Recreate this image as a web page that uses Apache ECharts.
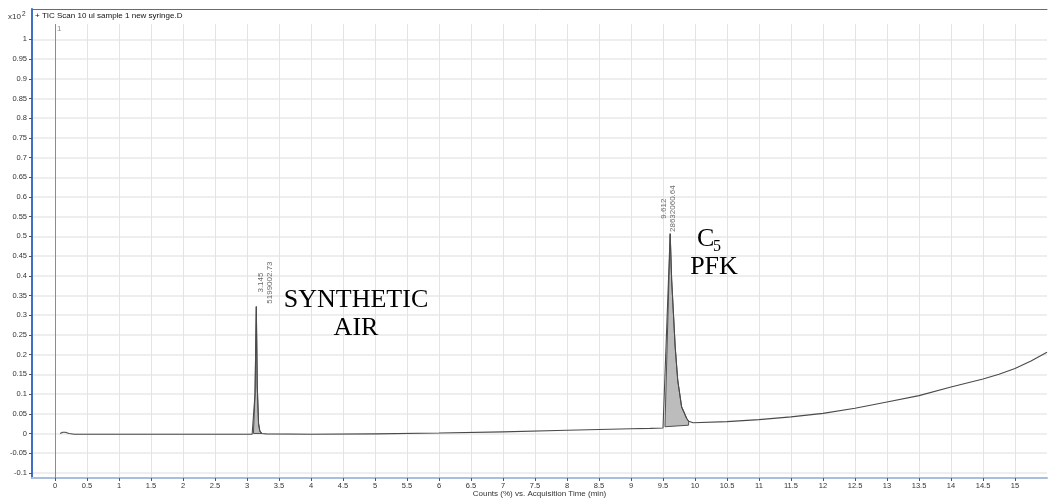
<!DOCTYPE html>
<html>
<head>
<meta charset="utf-8">
<script src="https://cdn.jsdelivr.net/npm/echarts@6/dist/echarts.min.js"></script>
<style>
  html, body { margin: 0; padding: 0; background: #fff; }
  #chart { width: 1048px; height: 500px; }
</style>
</head>
<body>
<div id="chart"></div>
<script>
// TIC trace: acquisition time (min) and counts (x10^2, %)
const traceTime = [
  0.08, 0.12, 0.16, 0.22, 0.30, 0.5, 1.0, 1.5, 2.0, 2.5, 3.0, 3.08,
  3.10, 3.125, 3.145, 3.16, 3.18, 3.20, 3.23, 3.3,
  4.0, 5.0, 6.0, 7.0, 8.0, 8.5, 9.0, 9.3, 9.5,
  9.53, 9.612, 9.635, 9.69, 9.73, 9.79, 9.87, 9.9,
  9.97, 10.0, 10.5, 11.0, 11.5, 12.0, 12.5, 13.0, 13.5, 14.0, 14.5, 14.75, 15.0, 15.25, 15.5
];
const traceValue = [
  0.000, 0.003, 0.003, 0.000, -0.002, -0.002, -0.002, -0.002, -0.002, -0.002, -0.002, -0.002,
  0.000, 0.100, 0.322, 0.120, 0.025, 0.006, 0.000, -0.001,
  -0.002, -0.001, 0.001, 0.004, 0.008, 0.010, 0.012, 0.013, 0.014,
  0.017, 0.507, 0.390, 0.220, 0.135, 0.068, 0.038, 0.031,
  0.027, 0.027, 0.030, 0.035, 0.042, 0.051, 0.064, 0.080, 0.096, 0.118, 0.138, 0.150, 0.165, 0.184, 0.206
];

// Integrated peaks
const peakRT = [3.145, 9.612];
const peakHeight = [0.322, 0.507];
const peakArea = ['5199002.73', '28632060.64'];
const peakStart = [3.10, 9.53];
const peakEnd = [3.23, 9.9];
const peakBaseStart = [0.0, 0.017];
const peakBaseEnd = [0.0, 0.021];

// Axis ticks
const xTicks = [0, 0.5, 1, 1.5, 2, 2.5, 3, 3.5, 4, 4.5, 5, 5.5, 6, 6.5, 7, 7.5, 8, 8.5,
  9, 9.5, 10, 10.5, 11, 11.5, 12, 12.5, 13, 13.5, 14, 14.5, 15];
const yTicks = [-0.1, -0.05, 0, 0.05, 0.1, 0.15, 0.2, 0.25, 0.3, 0.35, 0.4, 0.45, 0.5,
  0.55, 0.6, 0.65, 0.7, 0.75, 0.8, 0.85, 0.9, 0.95, 1];

const SMALL = "'Liberation Sans', Arial, sans-serif";
const SERIF = "'Liberation Serif', 'DejaVu Serif', serif";

// label offsets (px) for the rotated peak annotations
const peakLabelOffset = [[9, -24], [-2, -25]];

const chart = echarts.init(document.getElementById('chart'));

const option = {
  animation: false,
  backgroundColor: '#fff',
  grid: { left: 32, right: 1, top: 9, bottom: 22, containLabel: false, outerBoundsMode: 'none' },
  xAxis: [{
    type: 'value',
    min: -0.36,
    max: 15.5,
    name: 'Counts (%) vs. Acquisition Time (min)',
    nameLocation: 'middle',
    nameGap: 12,
    nameMoveOverlap: false,
    nameTextStyle: { fontFamily: SMALL, fontSize: 8, color: '#333', verticalAlign: 'top' },
    axisLine: { show: true, onZero: false, lineStyle: { color: '#a9bedc', width: 2 } },
    axisTick: { show: true, customValues: xTicks, length: 3, lineStyle: { color: '#555' } },
    axisLabel: {
      customValues: xTicks, margin: 4, fontFamily: SMALL, fontSize: 7.5, color: '#333',
      formatter: v => String(v)
    },
    splitLine: { show: true, lineStyle: { color: '#e3e3e3', width: 1 } }
  }, {
    type: 'value',
    position: 'top',
    min: -0.36,
    max: 15.5,
    axisLine: { show: true, onZero: false, lineStyle: { color: '#3f6fc6', width: 1 } },
    axisTick: { show: false },
    axisLabel: { show: false },
    splitLine: { show: false }
  }],
  yAxis: {
    type: 'value',
    min: -0.113,
    max: 1.077,
    axisLine: { show: true, onZero: false, lineStyle: { color: '#3f6fc6', width: 2 } },
    axisTick: { show: true, customValues: yTicks, length: 3, lineStyle: { color: '#555' } },
    axisLabel: {
      customValues: yTicks, margin: 5, fontFamily: SMALL, fontSize: 7.5, color: '#333',
      formatter: v => String(v)
    },
    splitLine: { show: true, lineStyle: { color: '#e8e8e8', width: 1.5 } }
  },
  series: [
    {
      name: 'peak areas',
      type: 'custom',
      z: 2,
      data: peakStart.map((s, i) => [s, peakBaseStart[i]]),
      renderItem(params, api) {
        const i = params.dataIndex;
        const pts = [];
        for (let k = 0; k < traceTime.length; k++) {
          const t = traceTime[k];
          if (t >= peakStart[i] && t <= peakEnd[i]) pts.push(api.coord([t, traceValue[k]]));
        }
        pts.push(api.coord([peakEnd[i], peakBaseEnd[i]]));
        pts.push(api.coord([peakStart[i], peakBaseStart[i]]));
        return {
          type: 'polygon',
          shape: { points: pts },
          style: { fill: '#bcbcbc', stroke: '#505050', lineWidth: 1 }
        };
      }
    },
    {
      name: 'TIC',
      type: 'line',
      z: 3,
      showSymbol: false,
      data: traceTime.map((t, i) => [t, traceValue[i]]),
      lineStyle: { color: '#4a4a4a', width: 1.1 },
      markLine: {
        silent: true,
        symbol: 'none',
        label: { show: false },
        lineStyle: { color: '#8c8c8c', width: 1, type: 'solid' },
        data: [[{ coord: [0, -0.113] }, { coord: [0, 1.04] }]]
      }
    },
    {
      name: 'peak labels',
      type: 'scatter',
      z: 4,
      symbolSize: 0,
      data: peakRT.map((t, i) => ({
        value: [t, peakHeight[i]],
        label: {
          show: true,
          position: peakLabelOffset[i],
          rotate: 90,
          align: 'center',
          verticalAlign: 'middle',
          lineHeight: 9,
          fontFamily: SMALL,
          fontSize: 8,
          color: '#444',
          formatter: () => peakRT[i].toFixed(3) + '\n' + peakArea[i]
        }
      }))
    }
  ],
  graphic: [
    { type: 'rect', z: 100, shape: { x: 33, y: 10, width: 1015, height: 14 }, style: { fill: '#fff' } },
    { type: 'text', z: 101, left: 35, top: 12,
      style: { text: '+ TIC Scan 10 ul sample 1 new syringe.D', font: '8px ' + SMALL, fill: '#111' } },
    { type: 'text', z: 101, left: 8, top: 13,
      style: { text: 'x10', font: '8px ' + SMALL, fill: '#333' } },
    { type: 'text', z: 101, left: 22, top: 11,
      style: { text: '2', font: '6.5px ' + SMALL, fill: '#333' } },
    { type: 'text', z: 101, left: 57, top: 25,
      style: { text: '1', font: '8px ' + SMALL, fill: '#8c8c8c' } },
    { type: 'text', z: 101, x: 356, y: 286.5,
      style: { text: 'SYNTHETIC\nAIR', font: '26px ' + SERIF, fill: '#000',
        align: 'center', verticalAlign: 'top', lineHeight: 28 } },
    { type: 'text', z: 101, x: 697, y: 252,
      style: { text: 'C', font: '26px ' + SERIF, fill: '#000', align: 'left', verticalAlign: 'bottom' } },
    { type: 'text', z: 101, x: 713, y: 255,
      style: { text: '5', font: '16px ' + SERIF, fill: '#000', align: 'left', verticalAlign: 'bottom' } },
    { type: 'text', z: 101, x: 714, y: 267,
      style: { text: 'PFK', font: '26px ' + SERIF, fill: '#000', align: 'center', verticalAlign: 'middle' } }
  ]
};

chart.setOption(option);
</script>
</body>
</html>
